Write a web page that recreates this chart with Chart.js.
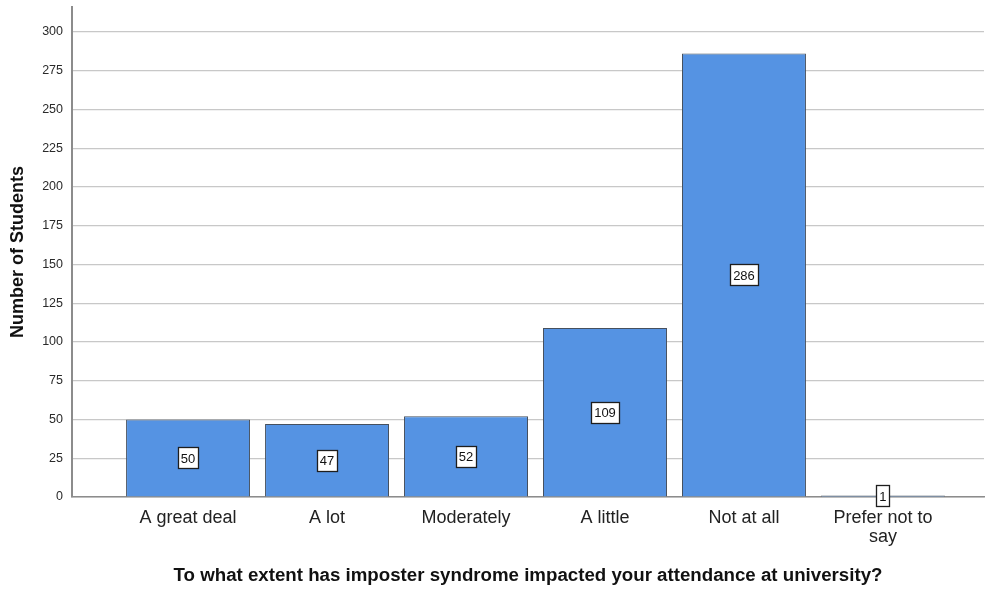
<!DOCTYPE html>
<html>
<head>
<meta charset="utf-8">
<script src="https://cdn.jsdelivr.net/npm/chart.js@4/dist/chart.umd.min.js"></script>
<style>
  html, body { margin: 0; padding: 0; background: #ffffff; }
  #wrap { width: 986px; height: 589px; position: relative; }
</style>
</head>
<body>
<div id="wrap"><canvas id="c"></canvas></div>
<script>
// Responses to the attendance question
const categories = ['A great deal', 'A lot', 'Moderately', 'A little', 'Not at all', ['Prefer not to', 'say']];
const counts = [50, 47, 52, 109, 286, 1];
const yTicks = [0, 25, 50, 75, 100, 125, 150, 175, 200, 225, 250, 275, 300];

const FONT = '"Liberation Sans", Arial, sans-serif';

// White boxed count labels centred inside each bar
const countLabels = {
  id: 'countLabels',
  afterDatasetsDraw(chart) {
    const ctx = chart.ctx;
    const meta = chart.getDatasetMeta(0);
    ctx.save();
    ctx.font = '13px ' + FONT;
    ctx.textAlign = 'center';
    ctx.textBaseline = 'middle';
    meta.data.forEach((bar, i) => {
      const text = String(counts[i]);
      const mid = (bar.y + bar.base) / 2;
      const w = Math.round(ctx.measureText(text).width + 6);
      const h = 21;
      const x0 = Math.round(bar.x - w / 2) + 0.5;
      const y0 = Math.round(mid - h / 2) + 0.5;
      ctx.fillStyle = '#ffffff';
      ctx.fillRect(x0, y0, w, h);
      ctx.strokeStyle = '#1e1e1e';
      ctx.lineWidth = 1.3;
      ctx.strokeRect(x0, y0, w, h);
      ctx.fillStyle = '#111111';
      ctx.fillText(text, bar.x, mid + 1);
    });
    ctx.restore();
  }
};

new Chart(document.getElementById('c'), {
  type: 'bar',
  data: {
    datasets: [{
      data: counts.map((v, i) => ({ x: i, y: v })),
      backgroundColor: '#5593e3',
      borderColor: '#46505e',
      borderWidth: 1,
      barPercentage: 1,
      categoryPercentage: 0.892
    }]
  },
  options: {
    responsive: true,
    maintainAspectRatio: false,
    animation: false,
    layout: { padding: { top: 7, right: 2, left: 0, bottom: 0 } },
    plugins: {
      legend: { display: false },
      tooltip: { enabled: false }
    },
    scales: {
      x: {
        type: 'linear',
        offset: false,
        min: -0.835,
        max: 5.727,
        afterBuildTicks(scale) {
          scale.ticks = categories.map((_, i) => ({ value: i }));
        },
        afterFit(scale) {
          scale.height = 92;
          scale.paddingLeft = 0;
          scale.paddingRight = 0;
        },
        ticks: {
          autoSkip: false,
          maxRotation: 0,
          padding: 12,
          color: '#222222',
          font: { family: FONT, size: 18, lineHeight: 1.05 },
          callback: (v) => categories[v]
        },
        grid: { display: false, drawTicks: false },
        border: { display: true, color: '#8c8c8c', width: 1.5 },
        title: {
          display: true,
          text: 'To what extent has imposter syndrome impacted your attendance at university?',
          color: '#111111',
          font: { family: FONT, size: 18.7, weight: 'bold' },
          padding: { top: 0, bottom: 2 }
        }
      },
      y: {
        min: 0,
        max: 316,
        afterBuildTicks(scale) {
          scale.ticks = yTicks.map(v => ({ value: v }));
        },
        afterFit(scale) {
          scale.width = 72;
          scale.paddingTop = 0;
          scale.paddingBottom = 0;
        },
        ticks: {
          padding: 9,
          color: '#2a2a2a',
          font: { family: FONT, size: 12.5 }
        },
        grid: { color: '#c8c8c8', lineWidth: 1.2, drawTicks: false },
        border: { display: true, color: '#8c8c8c', width: 2 },
        title: {
          display: true,
          text: 'Number of Students',
          color: '#111111',
          font: { family: FONT, size: 18, weight: 'bold' },
          padding: { top: 7, bottom: 0 }
        }
      }
    }
  },
  plugins: [countLabels]
});
</script>
</body>
</html>
